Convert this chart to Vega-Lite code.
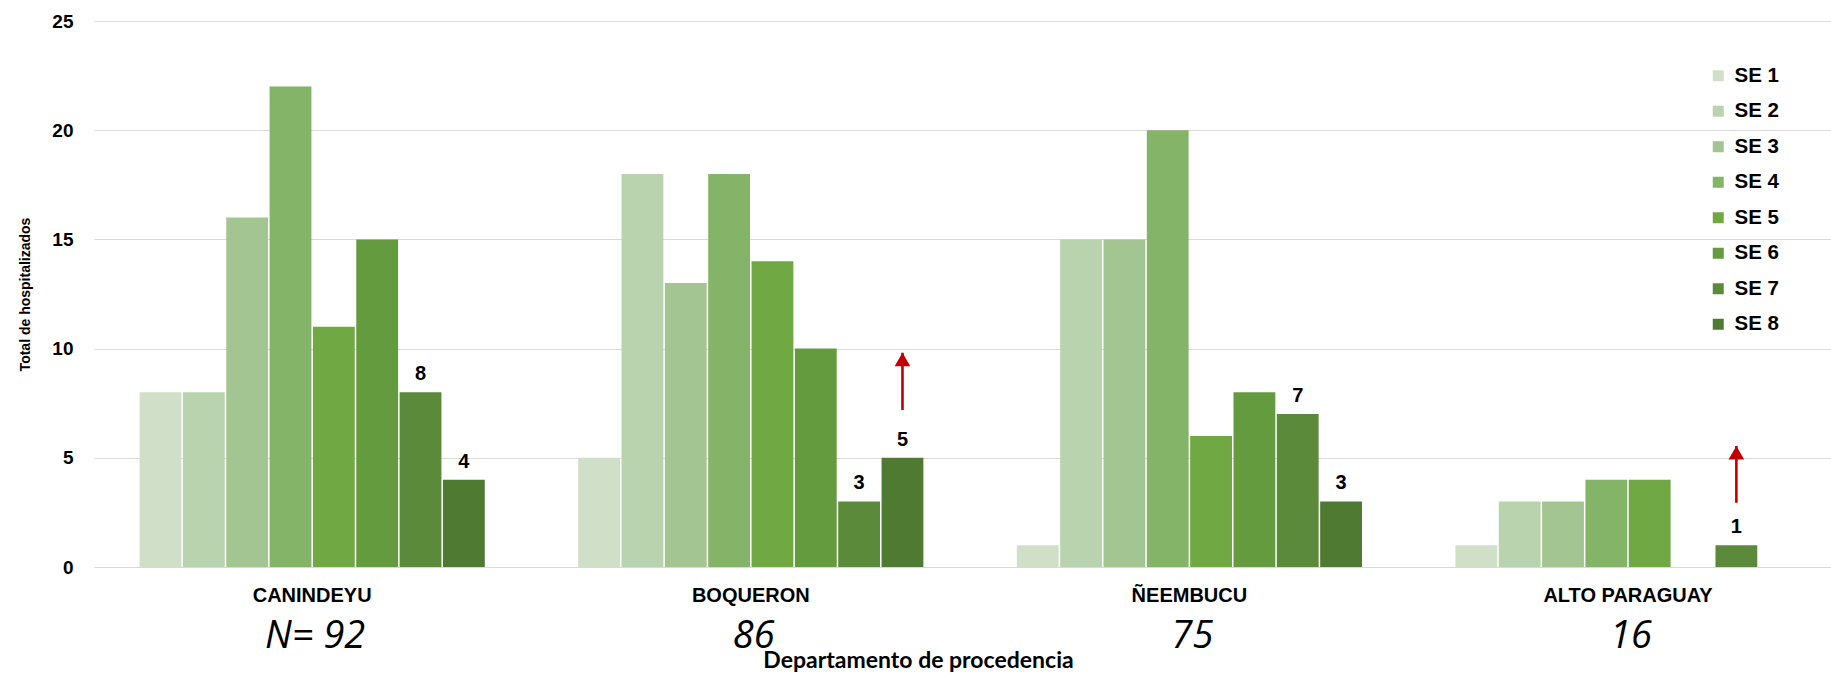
{
  "$schema": "https://vega.github.io/schema/vega-lite/v6.json",
  "width": 1737,
  "height": 546,
  "autosize": {"type": "none"},
  "padding": {"left": 94, "top": 21, "right": 0, "bottom": 106},
  "background": "#ffffff",
  "config": {
    "view": {"stroke": null},
    "axis": {"domain": false, "ticks": false, "tickSize": 0}
  },
  "datasets": {
    "casos": [
      {"departamento": "CANINDEYU", "semana": "SE 1", "total": 8},
      {"departamento": "CANINDEYU", "semana": "SE 2", "total": 8},
      {"departamento": "CANINDEYU", "semana": "SE 3", "total": 16},
      {"departamento": "CANINDEYU", "semana": "SE 4", "total": 22},
      {"departamento": "CANINDEYU", "semana": "SE 5", "total": 11},
      {"departamento": "CANINDEYU", "semana": "SE 6", "total": 15},
      {"departamento": "CANINDEYU", "semana": "SE 7", "total": 8},
      {"departamento": "CANINDEYU", "semana": "SE 8", "total": 4},
      {"departamento": "BOQUERON", "semana": "SE 1", "total": 5},
      {"departamento": "BOQUERON", "semana": "SE 2", "total": 18},
      {"departamento": "BOQUERON", "semana": "SE 3", "total": 13},
      {"departamento": "BOQUERON", "semana": "SE 4", "total": 18},
      {"departamento": "BOQUERON", "semana": "SE 5", "total": 14},
      {"departamento": "BOQUERON", "semana": "SE 6", "total": 10},
      {"departamento": "BOQUERON", "semana": "SE 7", "total": 3},
      {"departamento": "BOQUERON", "semana": "SE 8", "total": 5},
      {"departamento": "ÑEEMBUCU", "semana": "SE 1", "total": 1},
      {"departamento": "ÑEEMBUCU", "semana": "SE 2", "total": 15},
      {"departamento": "ÑEEMBUCU", "semana": "SE 3", "total": 15},
      {"departamento": "ÑEEMBUCU", "semana": "SE 4", "total": 20},
      {"departamento": "ÑEEMBUCU", "semana": "SE 5", "total": 6},
      {"departamento": "ÑEEMBUCU", "semana": "SE 6", "total": 8},
      {"departamento": "ÑEEMBUCU", "semana": "SE 7", "total": 7},
      {"departamento": "ÑEEMBUCU", "semana": "SE 8", "total": 3},
      {"departamento": "ALTO PARAGUAY", "semana": "SE 1", "total": 1},
      {"departamento": "ALTO PARAGUAY", "semana": "SE 2", "total": 3},
      {"departamento": "ALTO PARAGUAY", "semana": "SE 3", "total": 3},
      {"departamento": "ALTO PARAGUAY", "semana": "SE 4", "total": 4},
      {"departamento": "ALTO PARAGUAY", "semana": "SE 5", "total": 4},
      {"departamento": "ALTO PARAGUAY", "semana": "SE 6", "total": 0},
      {"departamento": "ALTO PARAGUAY", "semana": "SE 7", "total": 1},
      {"departamento": "ALTO PARAGUAY", "semana": "SE 8", "total": 0}
    ],
    "totales": [
      {"departamento": "CANINDEYU", "n": "N= 92"},
      {"departamento": "BOQUERON", "n": "86"},
      {"departamento": "ÑEEMBUCU", "n": "75"},
      {"departamento": "ALTO PARAGUAY", "n": "16"}
    ],
    "flechas": [
      {"departamento": "BOQUERON", "semana": "SE 8", "desde": 7.19, "hasta": 9.81},
      {"departamento": "ALTO PARAGUAY", "semana": "SE 7", "desde": 2.94, "hasta": 5.54}
    ]
  },
  "layer": [
    {
      "data": {"name": "casos"},
      "mark": {"type": "bar"},
      "encoding": {
        "x": {
          "field": "departamento",
          "type": "nominal",
          "sort": ["CANINDEYU", "BOQUERON", "ÑEEMBUCU", "ALTO PARAGUAY"],
          "scale": {"paddingInner": 0.213, "paddingOuter": 0.0866, "align": 0.6},
          "axis": {
            "title": "Departamento de procedencia",
            "labelAngle": 0,
            "labelFont": "Liberation Sans",
            "labelFontWeight": "bold",
            "labelFontSize": 20,
            "labelColor": "#000000",
            "labelPadding": 18,
            "labelLimit": 400,
            "titleFont": "Lato",
            "titleFontWeight": "bold",
            "titleFontSize": 23,
            "titleColor": "#000000",
            "titleX": 824,
            "titleY": 100,
            "titleBaseline": "alphabetic",
            "titleAlign": "center",
            "titleLimit": 800
          }
        },
        "xOffset": {
          "field": "semana",
          "type": "nominal",
          "scale": {"domain": ["SE 1", "SE 2", "SE 3", "SE 4", "SE 5", "SE 6", "SE 7", "SE 8"], "paddingInner": 0.035, "paddingOuter": 0}
        },
        "y": {
          "field": "total",
          "type": "quantitative",
          "scale": {"domain": [0, 25], "nice": false},
          "axis": {
            "title": "Total de hospitalizados",
            "values": [0, 5, 10, 15, 20, 25],
            "grid": true,
            "gridColor": "#d9d9d9",
            "gridWidth": 1.2,
            "labelFont": "Liberation Sans",
            "labelFontWeight": "bold",
            "labelFontSize": 19,
            "labelColor": "#000000",
            "labelPadding": 21,
            "titleFont": "Liberation Sans",
            "titleFontWeight": "bold",
            "titleFontSize": 14,
            "titleColor": "#000000",
            "titleX": -65,
            "titleBaseline": "alphabetic",
            "titleAngle": 270
          }
        },
        "color": {
          "field": "semana",
          "type": "nominal",
          "scale": {
            "domain": ["SE 1", "SE 2", "SE 3", "SE 4", "SE 5", "SE 6", "SE 7", "SE 8"],
            "range": ["#d0e0c8", "#b8d3ad", "#a3c592", "#84b467", "#70a844", "#659b3f", "#5b8b3a", "#4e7a31"]
          },
          "legend": {
            "title": null,
            "orient": "none",
            "legendX": 1614,
            "legendY": 44.5,
            "padding": 0,
            "symbolType": "square",
            "symbolSize": 121,
            "symbolStrokeWidth": 0,
            "labelFont": "Liberation Sans",
            "labelFontWeight": "bold",
            "labelFontSize": 20.5,
            "labelColor": "#000000",
            "labelOffset": 6,
            "rowPadding": 14.5
          }
        }
      }
    },
    {
      "data": {"name": "casos"},
      "transform": [
        {"filter": "(datum.semana == 'SE 7' || datum.semana == 'SE 8') && datum.total > 0"}
      ],
      "mark": {
        "type": "text",
        "font": "Liberation Sans",
        "fontWeight": "bold",
        "fontSize": 20,
        "baseline": "alphabetic",
        "dy": -12,
        "color": "#000000"
      },
      "encoding": {
        "x": {"field": "departamento", "type": "nominal", "sort": ["CANINDEYU", "BOQUERON", "ÑEEMBUCU", "ALTO PARAGUAY"]},
        "xOffset": {
          "field": "semana",
          "type": "nominal",
          "scale": {"domain": ["SE 1", "SE 2", "SE 3", "SE 4", "SE 5", "SE 6", "SE 7", "SE 8"]}
        },
        "y": {"field": "total", "type": "quantitative"},
        "text": {"field": "total", "type": "quantitative"}
      }
    },
    {
      "data": {"name": "totales"},
      "mark": {
        "type": "text",
        "font": "Open Sans",
        "fontStyle": "italic",
        "fontSize": 38,
        "baseline": "alphabetic",
        "align": "center",
        "dx": 3,
        "dy": 80.5,
        "color": "#000000"
      },
      "encoding": {
        "x": {"field": "departamento", "type": "nominal", "sort": ["CANINDEYU", "BOQUERON", "ÑEEMBUCU", "ALTO PARAGUAY"]},
        "y": {"datum": 0},
        "text": {"field": "n", "type": "nominal"}
      }
    },
    {
      "data": {"name": "flechas"},
      "mark": {"type": "rule", "color": "#c00000", "strokeWidth": 2.6},
      "encoding": {
        "x": {"field": "departamento", "type": "nominal", "sort": ["CANINDEYU", "BOQUERON", "ÑEEMBUCU", "ALTO PARAGUAY"]},
        "xOffset": {
          "field": "semana",
          "type": "nominal",
          "scale": {"domain": ["SE 1", "SE 2", "SE 3", "SE 4", "SE 5", "SE 6", "SE 7", "SE 8"]}
        },
        "y": {"field": "desde", "type": "quantitative"},
        "y2": {"field": "hasta"}
      }
    },
    {
      "data": {"name": "flechas"},
      "mark": {"type": "point", "shape": "triangle-up", "filled": true, "color": "#c00000", "opacity": 1, "size": 246, "yOffset": 6.8},
      "encoding": {
        "x": {"field": "departamento", "type": "nominal", "sort": ["CANINDEYU", "BOQUERON", "ÑEEMBUCU", "ALTO PARAGUAY"]},
        "xOffset": {
          "field": "semana",
          "type": "nominal",
          "scale": {"domain": ["SE 1", "SE 2", "SE 3", "SE 4", "SE 5", "SE 6", "SE 7", "SE 8"]}
        },
        "y": {"field": "hasta", "type": "quantitative"}
      }
    }
  ]
}
